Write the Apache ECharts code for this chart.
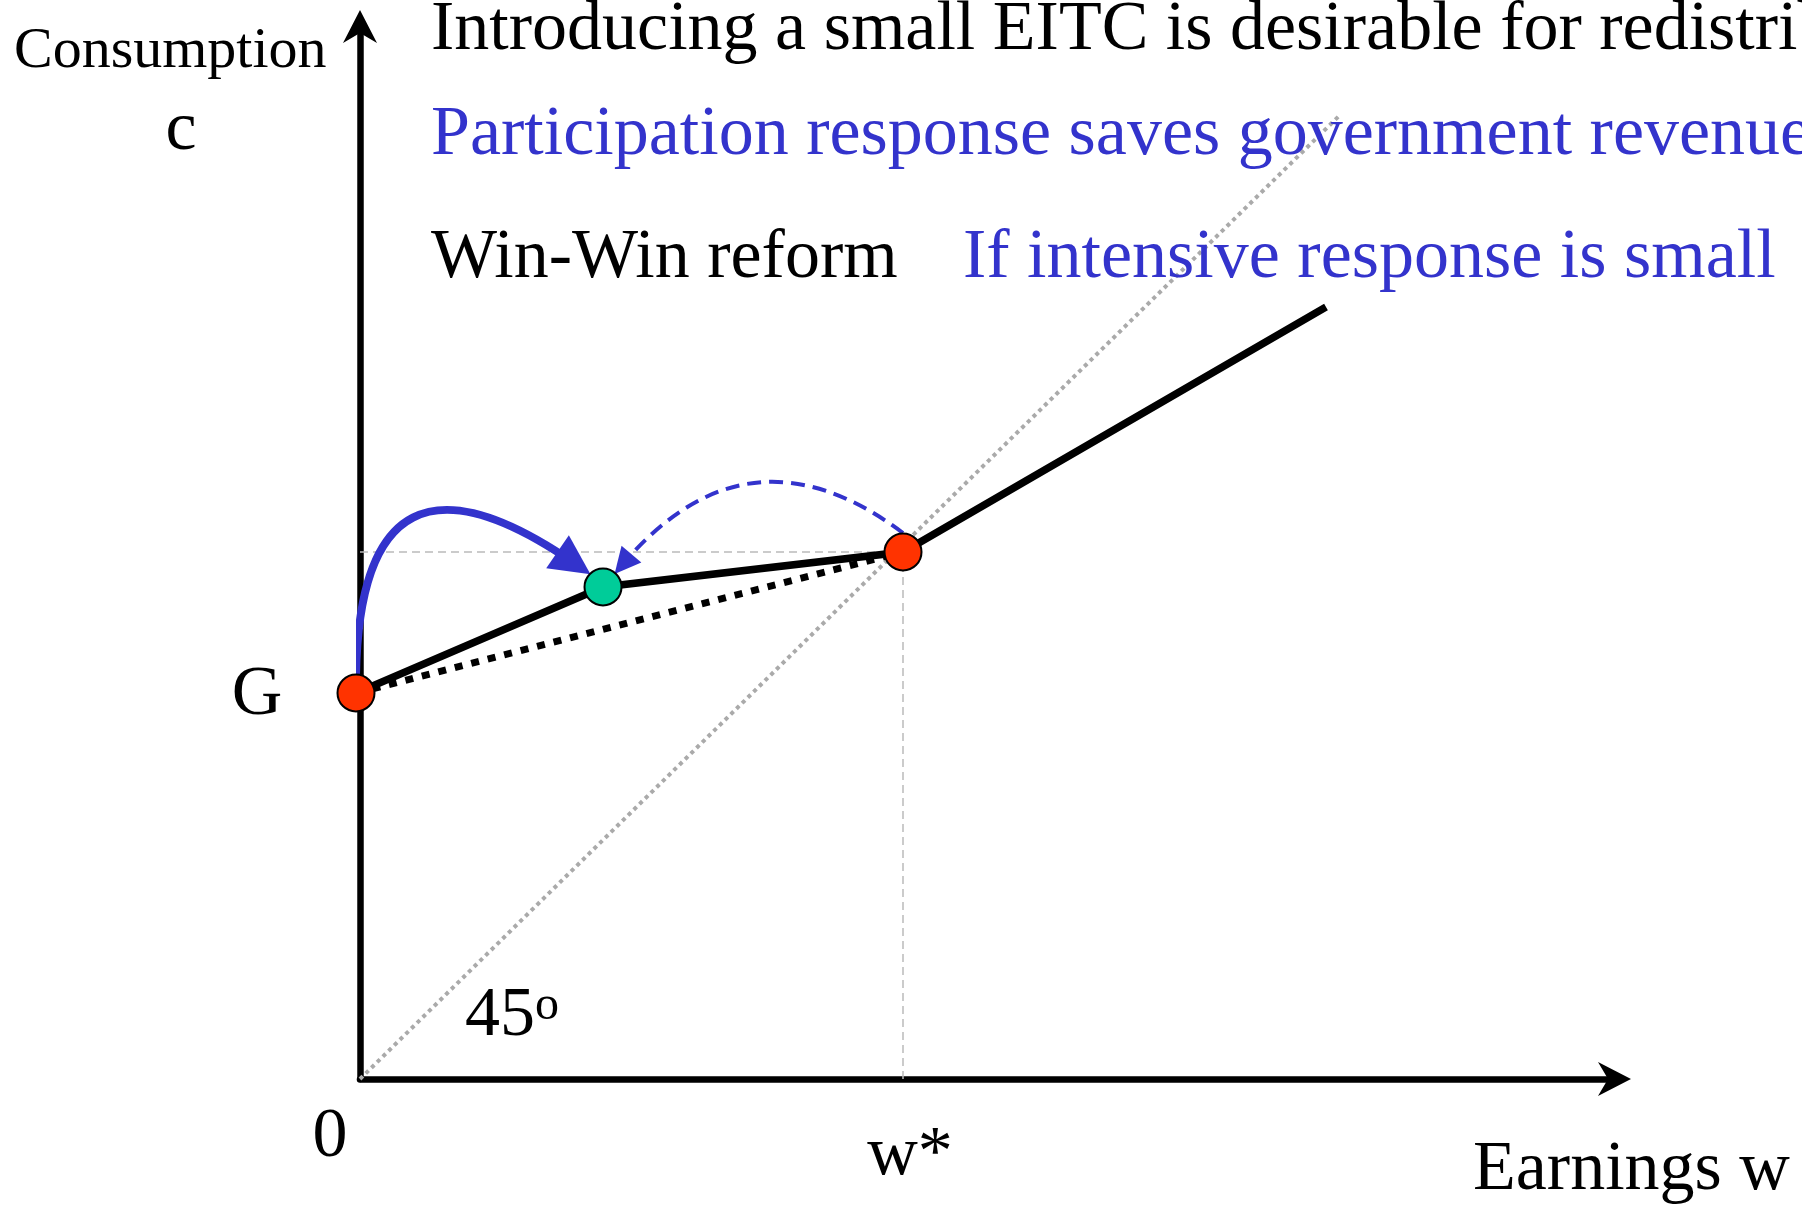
<!DOCTYPE html>
<html>
<head>
<meta charset="utf-8">
<script src="https://cdn.jsdelivr.net/npm/echarts@6/dist/echarts.min.js"></script>
<style>
html,body{margin:0;padding:0;background:#fff;}
#chart{width:1802px;height:1205px;}
</style>
</head>
<body>
<div id="chart"></div>
<script>
// ---- data ----
const kinkedBudget = [[-0.4, 38.6], [24.3, 49.2], [54.3, 52.7], [96.6, 77.2]];
const oldBudget = [[-0.4, 38.6], [54.3, 52.7]];
const line45 = [[0, 0], [98, 96.4]];
const guideH = [[0, 52.7], [54.3, 52.7]];
const guideV = [[54.3, 0], [54.3, 52.7]];
const redPoints = [[-0.4, 38.6], [54.3, 52.7]];
const greenPoints = [[24.3, 49.2]];
const participationArrow = [[-0.4, 40.4], [21.4, 51.6]];
const intensiveArrow = [[54.3, 54.6], [26.3, 51.5]];

const titleLine1 = 'Introducing a small EITC is desirable for redistribution';
const titleLine2 = 'Participation response saves government revenue';
const titleLine3a = 'Win-Win reform';
const titleLine3b = 'If intensive response is small';
const yAxisName1 = 'Consumption';
const yAxisName2 = 'c';
const xAxisName = 'Earnings w';
const labelG = 'G';
const labelZero = '0';
const labelW = 'w*';

const BLUE = '#3333CC';
const SERIF = '"Liberation Serif", "Times New Roman", serif';

const chart = echarts.init(document.getElementById('chart'), null, {renderer: 'canvas'});

function txt(str, x, baseline, size, color, align) {
  return {
    type: 'text', x: x, y: baseline - size * 0.275, z: 50,
    style: {text: str, font: size + 'px ' + SERIF, fill: color || '#000',
            align: align || 'left', verticalAlign: 'middle'}
  };
}

const ARROW = 'path://M17,0 L34,33 L17,23 L0,33 Z';
const axisCommon = {
  type: 'value', min: 0,
  axisTick: {show: false}, axisLabel: {show: false}, splitLine: {show: false},
  axisLine: {show: true, lineStyle: {color: '#000', width: 6.5},
             symbol: ['none', ARROW], symbolSize: [34, 33]}
};

chart.setOption({
  animation: false,
  backgroundColor: '#fff',
  grid: {left: 360, right: 187.5, top: 26.5, bottom: 126},
  xAxis: Object.assign({}, axisCommon, {max: 125.45}),
  yAxis: Object.assign({}, axisCommon, {max: 105.25}),
  series: [
    {type: 'line', data: line45, showSymbol: false, clip: false, z: 1,
     lineStyle: {color: '#aaaaaa', width: 4, type: [4, 4]}},
    {type: 'line', data: guideH, showSymbol: false, clip: false, z: 1,
     lineStyle: {color: '#bbbbbb', width: 1.5, type: [8, 5]}},
    {type: 'line', data: guideV, showSymbol: false, clip: false, z: 1,
     lineStyle: {color: '#bbbbbb', width: 1.5, type: [8, 5]}},
    {type: 'line', data: oldBudget, showSymbol: false, clip: false, z: 2,
     lineStyle: {color: '#000', width: 7, type: [8, 9], cap: 'butt'}},
    {type: 'line', data: kinkedBudget, showSymbol: false, clip: false, z: 3,
     lineStyle: {color: '#000', width: 7.5, join: 'miter'}},
    {type: 'lines', coordinateSystem: 'cartesian2d', z: 4,
     symbol: ['none', 'triangle'], symbolSize: [0, 40],
     lineStyle: {color: BLUE, width: 8, curveness: 0.93, opacity: 1},
     data: [{coords: participationArrow}]},
    {type: 'lines', coordinateSystem: 'cartesian2d', z: 4,
     symbol: ['none', 'triangle'], symbolSize: [0, 26],
     lineStyle: {color: BLUE, width: 4, curveness: -0.47, type: [14, 8], opacity: 1},
     data: [{coords: intensiveArrow}]},
    {type: 'scatter', data: redPoints, symbol: 'circle', symbolSize: 37, z: 5, clip: false,
     itemStyle: {color: '#FF3300', borderColor: '#000', borderWidth: 2, opacity: 1}},
    {type: 'scatter', data: greenPoints, symbol: 'circle', symbolSize: 37, z: 5, clip: false,
     itemStyle: {color: '#00CC99', borderColor: '#000', borderWidth: 2, opacity: 1}}
  ],
  graphic: [
    txt(titleLine1, 431, 50, 70, '#000'),
    txt(titleLine2, 431, 155, 70, BLUE),
    txt(titleLine3a, 431, 278, 70, '#000'),
    txt(titleLine3b, 963, 278, 70, BLUE),
    txt(yAxisName1, 14, 68, 58, '#000'),
    txt(yAxisName2, 181, 150, 70, '#000', 'center'),
    txt(labelG, 257, 715, 70, '#000', 'center'),
    txt(labelZero, 330, 1157, 70, '#000', 'center'),
    txt(labelW, 910, 1175, 70, '#000', 'center'),
    txt(xAxisName, 1473, 1190, 70, '#000'),
    {type: 'text', x: 465, y: 1017, z: 50,
     style: {text: '{a|45}{b|o}', fill: '#000', align: 'left', verticalAlign: 'middle',
       rich: {a: {font: '70px ' + SERIF, fill: '#000'},
              b: {font: '48px ' + SERIF, fill: '#000', verticalAlign: 'top'}}}}
  ]
});
</script>
</body>
</html>
